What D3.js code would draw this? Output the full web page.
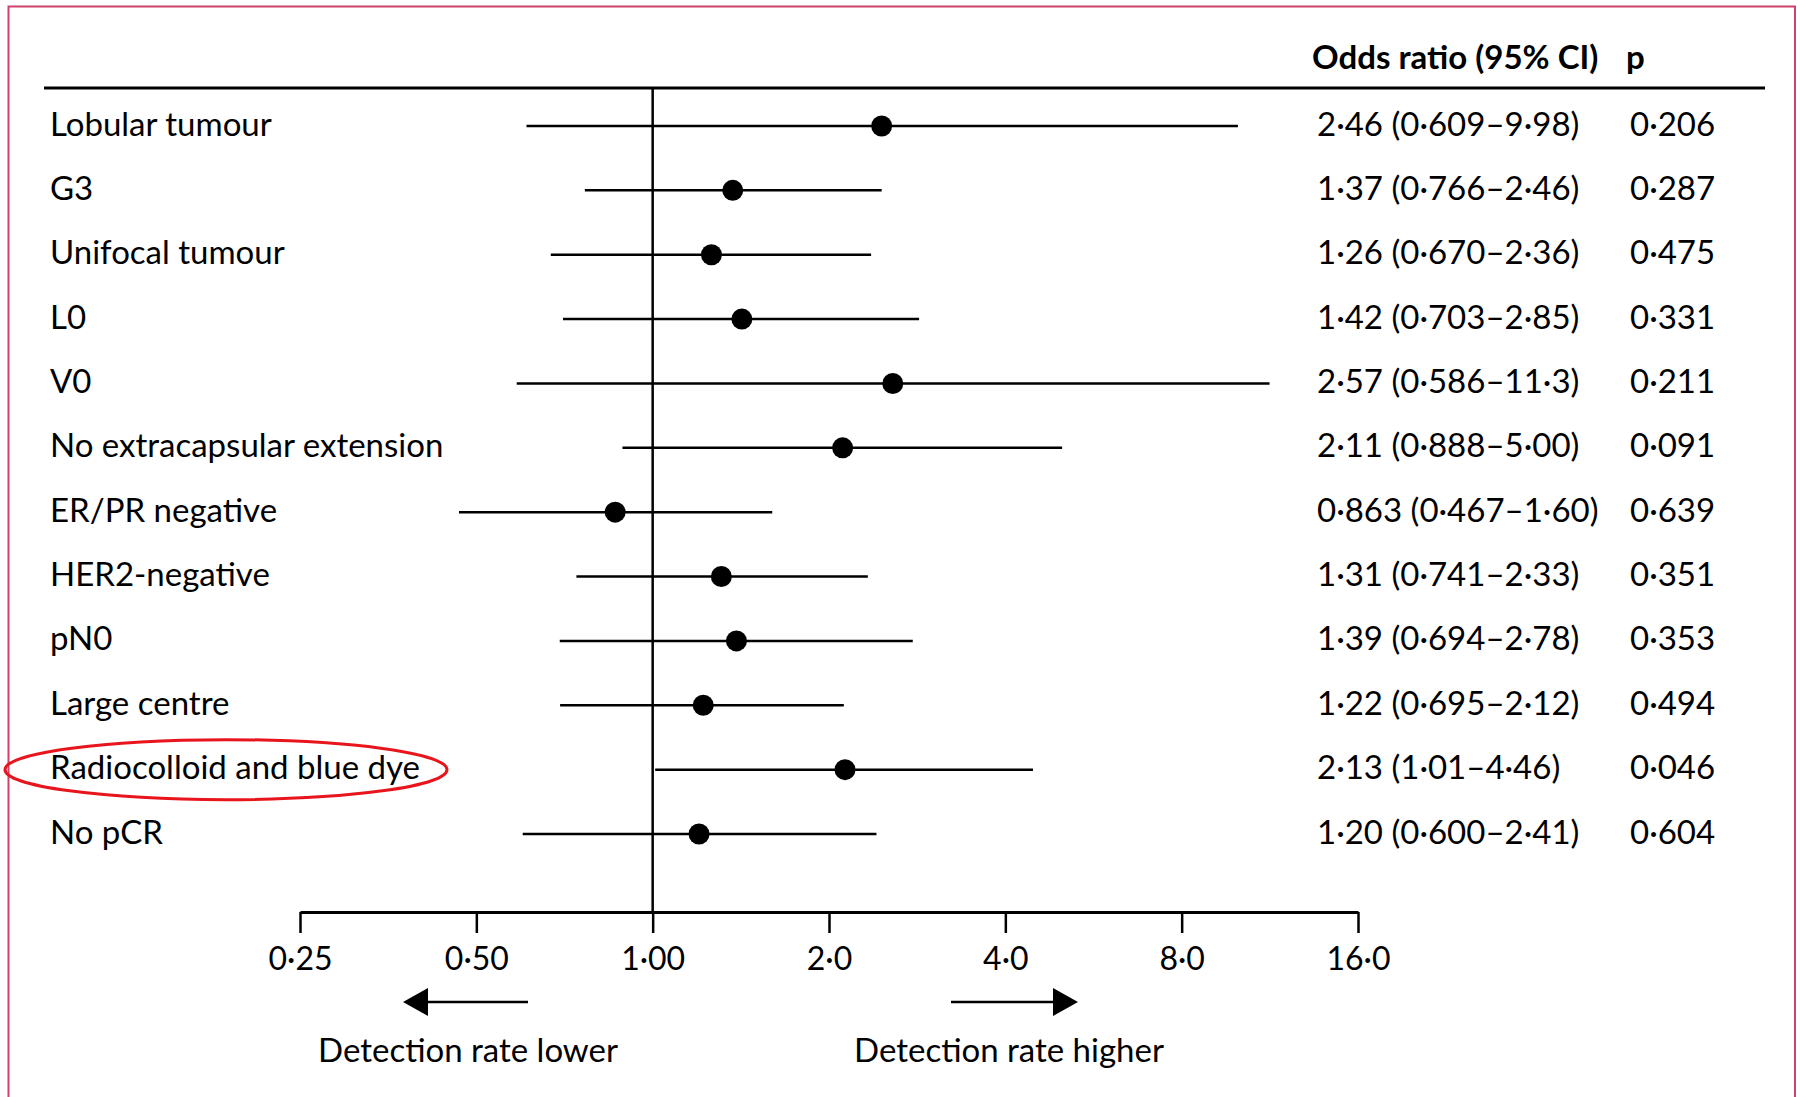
<!DOCTYPE html>
<html>
<head>
<meta charset="utf-8">
<script src="https://cdn.jsdelivr.net/npm/d3@7"></script>
<style>
  html, body { margin: 0; padding: 0; background: #ffffff; }
  svg { display: block; }
  text { font-family: Lato, "Open Sans", sans-serif; fill: #000; }
</style>
</head>
<body>
<svg id="chart" width="1800" height="1097"></svg>
<script>
// ---- data ----
const categories = [
  "Lobular tumour", "G3", "Unifocal tumour", "L0", "V0",
  "No extracapsular extension", "ER/PR negative", "HER2-negative",
  "pN0", "Large centre", "Radiocolloid and blue dye", "No pCR"
];
const oddsRatio = [2.46, 1.37, 1.26, 1.42, 2.57, 2.11, 0.863, 1.31, 1.39, 1.22, 2.13, 1.20];
const ciLower   = [0.609, 0.766, 0.670, 0.703, 0.586, 0.888, 0.467, 0.741, 0.694, 0.695, 1.01, 0.600];
const ciUpper   = [9.98, 2.46, 2.36, 2.85, 11.3, 5.00, 1.60, 2.33, 2.78, 2.12, 4.46, 2.41];
const orLabels  = [
  "2·46 (0·609–9·98)", "1·37 (0·766–2·46)", "1·26 (0·670–2·36)", "1·42 (0·703–2·85)",
  "2·57 (0·586–11·3)", "2·11 (0·888–5·00)", "0·863 (0·467–1·60)", "1·31 (0·741–2·33)",
  "1·39 (0·694–2·78)", "1·22 (0·695–2·12)", "2·13 (1·01–4·46)", "1·20 (0·600–2·41)"
];
const pValues   = [0.206, 0.287, 0.475, 0.331, 0.211, 0.091, 0.639, 0.351, 0.353, 0.494, 0.046, 0.604];
const tickValues = [0.25, 0.5, 1, 2, 4, 8, 16];
const tickLabels = ["0·25", "0·50", "1·00", "2·0", "4·0", "8·0", "16·0"];
const highlighted = "Radiocolloid and blue dye";

// ---- layout ----
const svg = d3.select("#chart");
const rows = categories.map((c, i) => ({
  cat: c, or: oddsRatio[i], lo: ciLower[i], hi: ciUpper[i], orText: orLabels[i], p: pValues[i]
}));

const x = d3.scaleLog().base(2).domain([0.25, 16]).range([300, 1358]);
const y = d3.scalePoint().domain(categories).range([126, 834]);
const axisY = 912;
const headerY = 88;
const fmtP = v => d3.format(".3f")(v).replace(".", "·");

// frame border
svg.append("path")
  .attr("d", "M8.5,1097 L8.5,6.5 L1795,6.5 L1795,1097")
  .attr("fill", "none").attr("stroke", "#d2406c").attr("stroke-width", 2);

// header
svg.append("text").attr("x", 1312).attr("y", 69)
  .attr("font-size", 33).attr("font-weight", 700).text("Odds ratio (95% CI)");
svg.append("text").attr("x", 1626).attr("y", 69)
  .attr("font-size", 33).attr("font-weight", 700).text("p");
svg.append("line").attr("x1", 44).attr("x2", 1765).attr("y1", headerY).attr("y2", headerY)
  .attr("stroke", "#000").attr("stroke-width", 3);

// reference line at OR = 1
svg.append("line").attr("x1", x(1)).attr("x2", x(1)).attr("y1", headerY).attr("y2", axisY)
  .attr("stroke", "#000").attr("stroke-width", 2.5);

// rows
const g = svg.append("g");
g.selectAll("line.ci").data(rows).join("line").attr("class", "ci")
  .attr("x1", d => x(d.lo)).attr("x2", d => x(d.hi))
  .attr("y1", d => y(d.cat)).attr("y2", d => y(d.cat))
  .attr("stroke", "#000").attr("stroke-width", 2.5);
g.selectAll("circle.pt").data(rows).join("circle").attr("class", "pt")
  .attr("cx", d => x(d.or)).attr("cy", d => y(d.cat)).attr("r", 10.5)
  .attr("fill", "#000");
g.selectAll("text.lab").data(rows).join("text").attr("class", "lab")
  .attr("x", 50).attr("y", d => y(d.cat)).attr("dy", "0.29em")
  .attr("font-size", 33).text(d => d.cat);
g.selectAll("text.ort").data(rows).join("text").attr("class", "ort")
  .attr("x", 1317).attr("y", d => y(d.cat)).attr("dy", "0.29em")
  .attr("font-size", 33).text(d => d.orText);
g.selectAll("text.pv").data(rows).join("text").attr("class", "pv")
  .attr("x", 1630).attr("y", d => y(d.cat)).attr("dy", "0.29em")
  .attr("font-size", 33).text(d => fmtP(d.p));

// highlight ellipse
svg.append("ellipse")
  .attr("cx", 226).attr("cy", y(highlighted)).attr("rx", 221).attr("ry", 30)
  .attr("fill", "none").attr("stroke", "#e8161c").attr("stroke-width", 3);

// axis
const axis = d3.axisBottom(x)
  .tickValues(tickValues)
  .tickFormat((d, i) => tickLabels[i])
  .tickSize(21).tickSizeOuter(0).tickPadding(14);
const ax = svg.append("g").attr("transform", `translate(0,${axisY})`).call(axis);
ax.select(".domain").attr("stroke", "#000").attr("stroke-width", 3);
ax.selectAll(".tick line").attr("stroke", "#000").attr("stroke-width", 2.5);
ax.selectAll(".tick text").attr("font-family", "Lato, 'Open Sans', sans-serif")
  .attr("font-size", 32).attr("fill", "#000");

// direction arrows
const arrowY = 1002;
svg.append("line").attr("x1", 426).attr("x2", 528).attr("y1", arrowY).attr("y2", arrowY)
  .attr("stroke", "#000").attr("stroke-width", 2.5);
svg.append("path").attr("d", `M403,${arrowY} L428,${arrowY - 14} L428,${arrowY + 14} Z`).attr("fill", "#000");
svg.append("line").attr("x1", 951).attr("x2", 1055).attr("y1", arrowY).attr("y2", arrowY)
  .attr("stroke", "#000").attr("stroke-width", 2.5);
svg.append("path").attr("d", `M1078,${arrowY} L1053,${arrowY - 14} L1053,${arrowY + 14} Z`).attr("fill", "#000");

svg.append("text").attr("x", 468).attr("y", 1062).attr("text-anchor", "middle")
  .attr("font-size", 33).text("Detection rate lower");
svg.append("text").attr("x", 1009).attr("y", 1062).attr("text-anchor", "middle")
  .attr("font-size", 33).text("Detection rate higher");
</script>
</body>
</html>
